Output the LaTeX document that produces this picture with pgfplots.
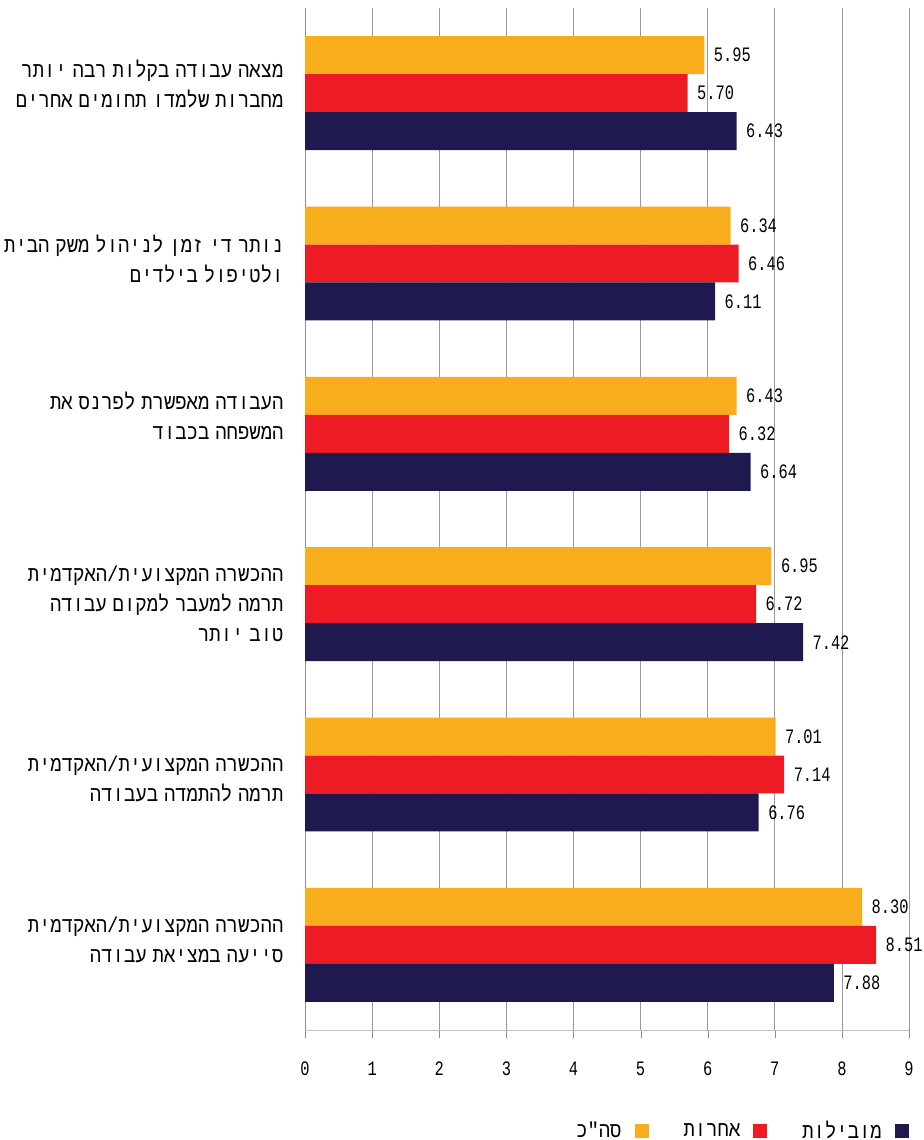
\documentclass[border=0pt]{standalone}
\usepackage{fontspec}
\usepackage{pgfplots}
\pgfplotsset{compat=1.18}
\usetikzlibrary{calc}
\TeXXeTstate=1
\setmainfont{Liberation Mono}[Script=Hebrew,FakeStretch=0.88,WordSpace=0.52,Ligatures=TeXOff]
\newfontfamily\numfont{Liberation Mono}[FakeStretch=0.75]
\definecolor{cOr}{HTML}{F8AD1D}
\definecolor{cRd}{HTML}{ED1C24}
\definecolor{cNv}{HTML}{1E1A50}
\newcommand\lab{\fontsize{21.5}{30}\selectfont}
\newcommand\numf{\numfont\fontsize{20.5}{22}\selectfont}
\pgfkeys{/pgf/number format/assume math mode=true}
\begin{document}
\begin{tikzpicture}
\begin{axis}[name=ax, scale only axis, width=604pt, height=1022pt,
  xbar, bar width=0.223, bar shift=0pt,
  xmin=0, xmax=9, ymin=-0.5, ymax=5.5, y dir=reverse,
  xtick={0,...,9}, ytick={-0.053,0.974,1.894,3,4.029,4.968},
  yticklabels={
    {\beginR מצאה עבודה בקלות רבה יותר\endR\\\beginR מחברות שלמדו תחומים אחרים\endR},
    {\beginR נותר די זמן לניהול משק הבית\endR\\\beginR ולטיפול בילדים\endR},
    {\beginR העבודה מאפשרת לפרנס את\endR\\\beginR המשפחה בכבוד\endR},
    {\beginR ההכשרה המקצועית/האקדמית\endR\\\beginR תרמה למעבר למקום עבודה\endR\\\beginR טוב יותר\endR},
    {\beginR ההכשרה המקצועית/האקדמית\endR\\\beginR תרמה להתמדה בעבודה\endR},
    {\beginR ההכשרה המקצועית/האקדמית\endR\\\beginR סייעה במציאת עבודה\endR}
  },
  yticklabel style={font=\lab, align=right, xshift=-10pt},
  xticklabel style={font=\numf, yshift=-20pt},
  ytick style={draw=none},
  axis x line*=bottom, axis y line*=left,
  x axis line style={draw=black!25, -},
  y axis line style={draw=black!45, -},
  tick align=outside, major tick length=8pt,
  xtick style={draw=black!45},
  xmajorgrids, major grid style={draw=black!40, line width=0.8pt},
  nodes near coords={\pgfmathprintnumber[fixed,fixed zerofill,precision=2]{\pgfplotspointmeta}},
  nodes near coords style={font=\numf, anchor=west, xshift=6pt, text=black},
  legend columns=3, legend plot pos=right,
  legend style={at={(1,-0.0985)}, anchor=east, draw=none, fill=none, inner sep=0pt,
    font=\lab,
    /tikz/every odd column/.append style={column sep=11pt},
    /tikz/every even column/.append style={column sep=33pt}},
  legend image code/.code={\fill[#1,draw=none] (0pt,-7pt) rectangle (14pt,7pt);},
  clip=false,
]
\addplot[fill=cOr, draw=none] coordinates {(5.95,-0.223) (6.34,0.777) (6.43,1.777) (6.95,2.777) (7.01,3.777) (8.30,4.777)};
\addlegendentry{\beginR סה"כ\endR}
\addplot[fill=cRd, draw=none] coordinates {(5.70,0) (6.46,1) (6.32,2) (6.72,3) (7.14,4) (8.51,5)};
\addlegendentry{\beginR אחרות\endR}
\addplot[fill=cNv, draw=none] coordinates {(6.43,0.223) (6.11,1.223) (6.64,2.223) (7.42,3.223) (6.76,4.223) (7.88,5.223)};
\addlegendentry{\beginR מובילות\endR}
\end{axis}
\pgfresetboundingbox
\path[use as bounding box] ($(ax.south west)+(-305pt,-110pt)$) rectangle ($(ax.north east)+(14pt,8pt)$);
\end{tikzpicture}
\end{document}
